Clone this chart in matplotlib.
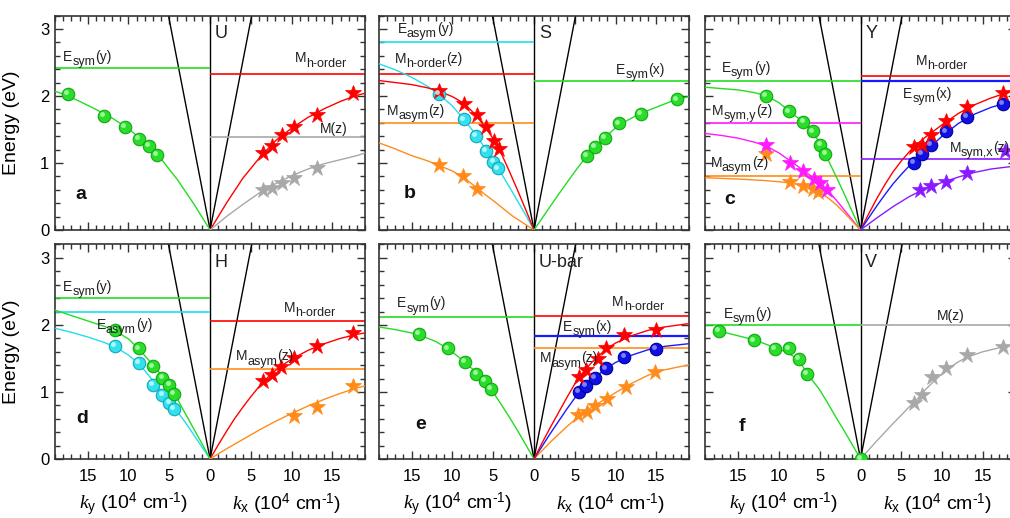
import re
import matplotlib.pyplot as plt
from matplotlib.ticker import MultipleLocator, FuncFormatter
from matplotlib.transforms import offset_copy

plt.rcParams['font.family'] = ['Liberation Sans', 'DejaVu Sans']
plt.rcParams['mathtext.fontset'] = 'custom'
plt.rcParams['mathtext.rm'] = 'Liberation Sans'
plt.rcParams['mathtext.it'] = 'Liberation Serif:italic'
plt.rcParams['mathtext.bf'] = 'Liberation Sans:bold'

K_MAX = 19
E_MAX = 3.2

GREEN = '#22dd22'
CYAN = '#22ddee'
RED = '#ff0000'
ORANGE = '#ff8c1a'
MAGENTA = '#ff1aff'
PURPLE = '#8a1aff'
BLUE = '#1a1aff'
GRAY = '#a8a8a8'

# light cone, same in every panel
light_k = [-5.1, 0, 5.1]
light_e = [3.2, 0, 3.2]

# ---- a : U ----
a_green_k = [-17.4, -13.06, -10.45, -8.73, -7.47, -6.53]
a_green_e = [2.03, 1.70, 1.54, 1.36, 1.26, 1.12]
a_green_fit_k = [0, -2, -4, -6, -8, -10, -12, -14, -16, -18, -19]
a_green_fit_e = [0, 0.39, 0.75, 1.06, 1.31, 1.51, 1.67, 1.80, 1.92, 2.03, 2.07]
a_red_k = [6.53, 7.55, 8.78, 10.33, 13.06, 17.55]
a_red_e = [1.15, 1.26, 1.41, 1.54, 1.72, 2.05]
a_red_fit_k = [0, 2, 4, 6, 8, 10, 12, 14, 16, 18, 19]
a_red_fit_e = [0, 0.40, 0.77, 1.07, 1.33, 1.52, 1.68, 1.81, 1.92, 2.01, 2.04]
a_gray_k = [6.53, 7.55, 8.78, 10.33, 13.06]
a_gray_e = [0.59, 0.62, 0.70, 0.78, 0.93]
a_gray_fit_k = [0, 2, 4, 6, 8, 10, 12, 14, 16, 18, 19]
a_gray_fit_e = [0, 0.20, 0.38, 0.55, 0.69, 0.81, 0.91, 0.99, 1.05, 1.11, 1.15]
a_levels = [2.42, 2.33, 1.39]

# ---- b : S ----
b_cyan_k = [-11.63, -8.61, -7.1, -5.86, -4.98, -4.45]
b_cyan_e = [2.03, 1.65, 1.40, 1.18, 1.02, 0.92]
b_cyan_fit_k = [0, -1, -2, -3, -4, -5, -6, -7, -8, -9, -10, -11.5, -13, -15, -17, -19]
b_cyan_fit_e = [0, 0.22, 0.43, 0.64, 0.84, 1.03, 1.22, 1.40, 1.56, 1.71, 1.85, 2.01, 2.14, 2.28, 2.39, 2.48]
b_red_k = [-11.63, -8.61, -7.02, -5.86, -4.94, -4.27]
b_red_e = [2.08, 1.88, 1.71, 1.53, 1.33, 1.21]
b_red_fit_k = [0, -1, -2, -3, -4, -5, -6, -7, -8, -9, -10, -11.6, -13, -15, -17, -19]
b_red_fit_e = [0, 0.30, 0.59, 0.87, 1.14, 1.36, 1.54, 1.70, 1.82, 1.92, 1.99, 2.07, 2.12, 2.17, 2.20, 2.23]
b_orange_k = [-11.63, -8.69, -7.02]
b_orange_e = [0.97, 0.81, 0.61]
b_orange_fit_k = [0, -1, -2.65, -4.7, -6, -7, -8.7, -10, -11.6, -13, -15, -17, -19]
b_orange_fit_e = [0, 0.08, 0.21, 0.41, 0.53, 0.63, 0.79, 0.88, 0.96, 1.03, 1.11, 1.21, 1.30]
b_green_k = [6.49, 7.47, 8.69, 10.41, 13.06, 17.47]
b_green_e = [1.11, 1.24, 1.38, 1.59, 1.73, 1.95]
b_green_fit_k = [0, 3, 5, 6.49, 7.47, 8.69, 10.41, 13.06, 17.47, 19]
b_green_fit_e = [0, 0.53, 0.87, 1.11, 1.24, 1.38, 1.57, 1.74, 1.95, 1.99]
b_levels = [2.80, 2.33, 1.60, 2.22]

# ---- c : Y ----
c_green_k = [-11.55, -8.82, -7.0, -5.84, -4.92, -4.3]
c_green_e = [2.00, 1.77, 1.61, 1.47, 1.27, 1.14]
c_green_fit_k = [0, -1, -2, -3, -4.3, -4.9, -5.8, -7, -8.8, -10, -11.5, -13, -15, -17, -19]
c_green_fit_e = [0, 0.27, 0.54, 0.80, 1.13, 1.28, 1.45, 1.61, 1.78, 1.90, 2.00, 2.05, 2.09, 2.11, 2.13]
c_magenta_k = [-11.56, -8.62, -7.06, -5.76, -4.94, -4.12]
c_magenta_e = [1.27, 1.00, 0.88, 0.76, 0.70, 0.60]
c_magenta_fit_k = [0, -1, -2, -3, -4.1, -4.9, -5.8, -7, -8.6, -10, -11.5, -13, -15, -17, -19]
c_magenta_fit_e = [0, 0.15, 0.30, 0.45, 0.60, 0.69, 0.78, 0.89, 1.03, 1.15, 1.25, 1.31, 1.37, 1.41, 1.44]
c_orange_k = [-11.56, -8.62, -7.06, -5.88, -5.15]
c_orange_e = [1.13, 0.72, 0.65, 0.61, 0.57]
c_orange_fit_k = [0, -1, -2, -3, -4, -5, -5.9, -7, -8.6, -10, -12, -15, -19]
c_orange_fit_e = [0, 0.13, 0.26, 0.38, 0.48, 0.56, 0.61, 0.66, 0.70, 0.72, 0.74, 0.76, 0.78]
c_red_k = [6.5, 7.52, 8.66, 10.5, 13.04, 17.45]
c_red_e = [1.24, 1.27, 1.42, 1.62, 1.84, 2.05]
c_red_fit_k = [0, 1, 2, 3, 4, 5, 6, 7, 8, 9, 10, 12, 14, 16, 18, 19]
c_red_fit_e = [0, 0.24, 0.47, 0.68, 0.87, 1.03, 1.17, 1.29, 1.39, 1.48, 1.57, 1.74, 1.87, 1.97, 2.05, 2.08]
c_blue_k = [6.5, 7.52, 8.66, 10.5, 13.04, 17.45]
c_blue_e = [1.00, 1.13, 1.27, 1.47, 1.69, 1.88]
c_blue_fit_k = [0, 1, 2, 3, 4, 5, 6, 7, 8, 9, 10, 12, 14, 16, 18, 19]
c_blue_fit_e = [0, 0.18, 0.36, 0.53, 0.69, 0.83, 0.96, 1.07, 1.18, 1.29, 1.40, 1.59, 1.73, 1.83, 1.90, 1.93]
c_purple_k = [7.3, 8.66, 10.5, 13.04, 17.7]
c_purple_e = [0.59, 0.66, 0.72, 0.85, 1.18]
c_purple_fit_k = [0, 2, 4, 6, 8, 10, 12, 14, 16, 18, 19]
c_purple_fit_e = [0, 0.18, 0.35, 0.50, 0.62, 0.71, 0.79, 0.86, 0.91, 0.94, 0.95]
c_levels = [2.23, 1.59, 0.80, 2.30, 2.23, 1.06]

# ---- d : H ----
d_green_k = [-11.63, -8.69, -7.02, -5.84, -4.98, -4.41]
d_green_e = [1.92, 1.65, 1.38, 1.21, 1.11, 0.97]
d_green_fit_k = [0, -1, -2, -3, -4.4, -5, -6, -7, -8.7, -10, -11.6, -13, -15, -17, -19]
d_green_fit_e = [0, 0.23, 0.45, 0.67, 0.98, 1.10, 1.26, 1.40, 1.64, 1.79, 1.91, 1.98, 2.06, 2.14, 2.22]
d_cyan_k = [-11.63, -8.69, -7.02, -5.84, -4.98, -4.41]
d_cyan_e = [1.69, 1.43, 1.10, 0.95, 0.84, 0.75]
d_cyan_fit_k = [0, -1, -2, -3, -4.4, -5, -6, -7, -8.7, -10, -11.6, -13, -15, -17, -19]
d_cyan_fit_e = [0, 0.18, 0.36, 0.54, 0.77, 0.86, 1.02, 1.17, 1.42, 1.55, 1.67, 1.74, 1.82, 1.89, 1.95]
d_red_k = [6.53, 7.55, 8.65, 10.33, 13.14, 17.55]
d_red_e = [1.16, 1.26, 1.37, 1.50, 1.68, 1.88]
d_red_fit_k = [0, 1, 2, 3, 4, 5, 6, 7, 8, 9, 10, 12, 14, 16, 18, 19]
d_red_fit_e = [0, 0.21, 0.41, 0.60, 0.77, 0.93, 1.08, 1.21, 1.32, 1.41, 1.49, 1.62, 1.72, 1.80, 1.86, 1.88]
d_orange_k = [10.33, 13.14, 17.55]
d_orange_e = [0.64, 0.78, 1.09]
d_orange_fit_k = [0, 2, 4, 6, 8, 10, 12, 14, 16, 18, 19]
d_orange_fit_e = [0, 0.15, 0.29, 0.43, 0.56, 0.68, 0.79, 0.89, 0.98, 1.06, 1.09]
d_levels = [2.40, 2.19, 2.06, 1.34]

# ---- e : U-bar ----
e_green_k = [-14.08, -10.57, -8.45, -7.06, -6.0, -5.27]
e_green_e = [1.86, 1.65, 1.45, 1.27, 1.16, 1.04]
e_green_fit_k = [0, -1, -2, -3, -4, -5.3, -6, -7, -8.5, -10.5, -12, -14, -15, -17, -19]
e_green_fit_e = [0, 0.21, 0.42, 0.62, 0.81, 1.05, 1.15, 1.28, 1.45, 1.64, 1.75, 1.85, 1.88, 1.93, 1.97]
e_red_k = [5.55, 6.37, 7.88, 8.82, 11.07, 14.9]
e_red_e = [1.23, 1.33, 1.49, 1.66, 1.85, 1.93]
e_red_fit_k = [0, 1, 2, 3, 4, 5, 6, 7, 8, 9, 10, 12, 14, 16, 19]
e_red_fit_e = [0, 0.24, 0.47, 0.69, 0.91, 1.12, 1.29, 1.43, 1.55, 1.65, 1.73, 1.84, 1.92, 1.97, 2.02]
e_blue_k = [5.55, 6.37, 7.48, 8.82, 11.07, 14.9]
e_blue_e = [1.00, 1.09, 1.21, 1.35, 1.52, 1.64]
e_blue_fit_k = [0, 1, 2, 3, 4, 5, 6, 7, 8, 9, 10, 12, 14, 16, 19]
e_blue_fit_e = [0, 0.19, 0.38, 0.56, 0.74, 0.91, 1.05, 1.16, 1.27, 1.36, 1.44, 1.55, 1.63, 1.68, 1.72]
e_orange_k = [5.43, 6.45, 7.47, 8.9, 11.22, 14.8]
e_orange_e = [0.65, 0.70, 0.79, 0.89, 1.08, 1.30]
e_orange_fit_k = [0, 2, 4, 6, 8, 10, 12, 14, 16, 18, 19]
e_orange_fit_e = [0, 0.25, 0.48, 0.69, 0.84, 0.99, 1.13, 1.25, 1.33, 1.38, 1.40]
e_levels = [2.12, 2.14, 1.83, 1.65]

# ---- f : V ----
f_green_k = [-17.39, -13.1, -10.45, -8.82, -7.51, -6.57, 0]
f_green_e = [1.91, 1.77, 1.64, 1.65, 1.49, 1.27, 0]
f_green_fit_k = [0, -1, -2, -3, -4, -5, -6.57, -7.51, -8.82, -10.45, -13.1, -17.39]
f_green_fit_e = [0, 0.21, 0.42, 0.62, 0.83, 1.03, 1.28, 1.47, 1.58, 1.66, 1.78, 1.91]
f_gray_k = [6.61, 7.59, 8.82, 10.45, 13.1, 17.43]
f_gray_e = [0.84, 0.96, 1.23, 1.35, 1.55, 1.67]
f_gray_fit_k = [0, 2, 4, 6, 7, 8, 9, 10.5, 12, 13.1, 15, 17.4, 19]
f_gray_fit_e = [0, 0.27, 0.53, 0.78, 0.90, 1.04, 1.16, 1.33, 1.45, 1.52, 1.60, 1.67, 1.71]
f_levels = [2.00, 2.00]

BALL_EDGE = {GREEN: '#12a812', CYAN: '#14a8b8', BLUE: '#0000a0'}
BALL_FACE = {GREEN: '#2add2a', CYAN: '#33e0f0', BLUE: '#1010e0'}
BALL_SHINE = {GREEN: '#b8ffb8', CYAN: '#d0ffff', BLUE: '#9a9aff'}

panels = [
    dict(pos=(0.0545, 0.556), letter='a', point='U',
         levels=[(a_levels[0], 'L', GREEN), (a_levels[1], 'R', RED), (a_levels[2], 'R', GRAY)],
         fits=[(a_green_fit_k, a_green_fit_e, GREEN), (a_red_fit_k, a_red_fit_e, RED),
               (a_gray_fit_k, a_gray_fit_e, GRAY)],
         balls=[(a_green_k, a_green_e, GREEN)],
         stars=[(a_red_k, a_red_e, RED), (a_gray_k, a_gray_e, GRAY)],
         labels=[(-18.0, 2.52, 'E_{sym}(y)'), (10.4, 2.50, 'M_{h-order}'), (13.5, 1.44, 'M(z)')],
         letter_xy=(-15.8, 0.53)),
    dict(pos=(0.3752, 0.556), letter='b', point='S',
         levels=[(b_levels[0], 'L', CYAN), (b_levels[1], 'L', RED), (b_levels[2], 'L', ORANGE),
                 (b_levels[3], 'R', GREEN)],
         fits=[(b_orange_fit_k, b_orange_fit_e, ORANGE), (b_cyan_fit_k, b_cyan_fit_e, CYAN),
               (b_red_fit_k, b_red_fit_e, RED), (b_green_fit_k, b_green_fit_e, GREEN)],
         balls=[(b_cyan_k, b_cyan_e, CYAN), (b_green_k, b_green_e, GREEN)],
         stars=[(b_red_k, b_red_e, RED), (b_orange_k, b_orange_e, ORANGE)],
         labels=[(-16.7, 2.94, 'E_{asym}(y)'), (-17.1, 2.49, 'M_{h-order}(z)'),
                 (-18.0, 1.72, 'M_{asym}(z)'), (10.05, 2.33, 'E_{sym}(x)')],
         letter_xy=(-15.2, 0.54)),
    dict(pos=(0.6985, 0.556), letter='c', point='Y',
         levels=[(c_levels[0], 'L', GREEN), (c_levels[1], 'L', MAGENTA), (c_levels[2], 'L', ORANGE),
                 (c_levels[3], 'R', RED), (c_levels[4], 'R', BLUE), (c_levels[5], 'R', PURPLE)],
         fits=[(c_green_fit_k, c_green_fit_e, GREEN), (c_magenta_fit_k, c_magenta_fit_e, MAGENTA),
               (c_orange_fit_k, c_orange_fit_e, ORANGE), (c_red_fit_k, c_red_fit_e, RED),
               (c_blue_fit_k, c_blue_fit_e, BLUE), (c_purple_fit_k, c_purple_fit_e, PURPLE)],
         balls=[(c_green_k, c_green_e, GREEN), (c_blue_k, c_blue_e, BLUE)],
         stars=[(c_orange_k, c_orange_e, ORANGE), (c_magenta_k, c_magenta_e, MAGENTA),
                (c_red_k, c_red_e, RED), (c_purple_k, c_purple_e, PURPLE)],
         labels=[(-17.0, 2.36, 'E_{sym}(y)'), (-18.2, 1.72, 'M_{sym,y}(z)'),
                 (-18.4, 0.94, 'M_{asym}(z)'), (6.8, 2.46, 'M_{h-order}'),
                 (5.2, 1.97, 'E_{sym}(x)'), (10.9, 1.17, 'M_{sym,x}(z)')],
         letter_xy=(-16.0, 0.46)),
    dict(pos=(0.0545, 0.114), letter='d', point='H',
         levels=[(d_levels[0], 'L', GREEN), (d_levels[1], 'L', CYAN), (d_levels[2], 'R', RED),
                 (d_levels[3], 'R', ORANGE)],
         fits=[(d_cyan_fit_k, d_cyan_fit_e, CYAN), (d_green_fit_k, d_green_fit_e, GREEN),
               (d_red_fit_k, d_red_fit_e, RED), (d_orange_fit_k, d_orange_fit_e, ORANGE)],
         balls=[(d_cyan_k, d_cyan_e, CYAN), (d_green_k, d_green_e, GREEN)],
         stars=[(d_red_k, d_red_e, RED), (d_orange_k, d_orange_e, ORANGE)],
         labels=[(-18.0, 2.51, 'E_{sym}(y)'), (-13.9, 1.94, 'E_{asym}(y)'),
                 (9.07, 2.19, 'M_{h-order}'), (3.19, 1.47, 'M_{asym}(z)')],
         letter_xy=(-15.7, 0.60)),
    dict(pos=(0.3752, 0.114), letter='e', point='U-bar',
         levels=[(e_levels[0], 'L', GREEN), (e_levels[1], 'R', RED), (e_levels[2], 'R', BLUE),
                 (e_levels[3], 'R', ORANGE)],
         fits=[(e_green_fit_k, e_green_fit_e, GREEN), (e_orange_fit_k, e_orange_fit_e, ORANGE),
               (e_blue_fit_k, e_blue_fit_e, BLUE), (e_red_fit_k, e_red_fit_e, RED)],
         balls=[(e_green_k, e_green_e, GREEN), (e_blue_k, e_blue_e, BLUE)],
         stars=[(e_orange_k, e_orange_e, ORANGE), (e_red_k, e_red_e, RED)],
         labels=[(-16.8, 2.26, 'E_{sym}(y)'), (9.6, 2.28, 'M_{h-order}'),
                 (3.6, 1.91, 'E_{sym}(x)'), (0.74, 1.44, 'M_{asym}(z)')],
         letter_xy=(-13.9, 0.52)),
    dict(pos=(0.6985, 0.114), letter='f', point='V',
         levels=[(f_levels[0], 'L', GREEN), (f_levels[1], 'R', GRAY)],
         fits=[(f_green_fit_k, f_green_fit_e, GREEN), (f_gray_fit_k, f_gray_fit_e, GRAY)],
         balls=[(f_green_k, f_green_e, GREEN)],
         stars=[(f_gray_k, f_gray_e, GRAY)],
         labels=[(-16.8, 2.10, 'E_{sym}(y)'), (9.4, 2.07, 'M(z)')],
         letter_xy=(-14.5, 0.49)),
]


def sub_label(ax, x, y, s, size=10.0, sub_size=9.0, drop=3.0):
    # subscripts nearly full size, as in the original figure
    parts = [p for p in re.split(r'_\{([^}]*)\}', s)]
    prev = None
    is_sub = False
    for part in parts:
        if part:
            if prev is None:
                prev = ax.text(x, y, part, fontsize=size, ha='left', va='baseline',
                               color='#222222', zorder=6)
            else:
                dy = -drop if is_sub else drop
                prev = ax.annotate(part, xy=(1, 0), xycoords=prev, xytext=(0, dy),
                                   textcoords='offset points', ha='left', va='bottom',
                                   fontsize=sub_size if is_sub else size,
                                   color='#222222', zorder=6)
        is_sub = not is_sub


fig = plt.figure(figsize=(10.1, 5.18), dpi=100)
W, H = 0.307, 0.414

for i, p in enumerate(panels):
    ax = fig.add_axes([p['pos'][0], p['pos'][1], W, H])
    ax.set_xlim(-K_MAX, K_MAX)
    ax.set_ylim(0, E_MAX)

    ax.plot(light_k, light_e, color='k', lw=1.0, zorder=2)
    ax.axvline(0, color='k', lw=1.0, zorder=2)

    for lev, side, col in p['levels']:
        if side == 'L':
            ax.hlines(lev, -K_MAX, 0, color=col, lw=1.6 if col == BLUE else 1.2, zorder=2)
        else:
            ax.hlines(lev, 0, K_MAX, color=col, lw=1.6 if col == BLUE else 1.2, zorder=2)

    for k, e, col in p['fits']:
        ax.plot(k, e, color=col, lw=1.0, zorder=3)

    shine = offset_copy(ax.transData, fig=fig, x=-1.3, y=1.3, units='points')
    for k, e, col in p['balls']:
        ax.plot(k, e, 'o', ms=9, mfc=BALL_FACE[col], mec=BALL_EDGE[col], mew=0.8, zorder=4)
        ax.plot(k, e, 'o', ms=3.5, mfc=BALL_SHINE[col], mec='none', alpha=0.8,
                transform=shine, zorder=5)

    for k, e, col in p['stars']:
        ax.plot(k, e, '*', ms=12, mfc=col, mec=col, mew=0.5, zorder=4)

    for x, y, s in p['labels']:
        sub_label(ax, x, y, s)

    ax.text(0.6, 2.86, p['point'], fontsize=13, ha='left', va='baseline', color='#222222')
    ax.text(p['letter_xy'][0], p['letter_xy'][1], p['letter'], fontsize=14,
            fontweight='bold', ha='center', va='center', color='#111111')

    ax.xaxis.set_major_locator(MultipleLocator(5))
    ax.xaxis.set_minor_locator(MultipleLocator(1))
    ax.yaxis.set_major_locator(MultipleLocator(1))
    ax.yaxis.set_minor_locator(MultipleLocator(0.2))
    ax.xaxis.set_major_formatter(FuncFormatter(lambda v, pos: f'{abs(v):.0f}'))
    ax.tick_params(which='both', direction='in', top=True, right=True,
                   color='#333333', width=1.0, labelsize=12, pad=7)
    ax.tick_params(which='major', length=6)
    ax.tick_params(which='minor', length=3.5)
    ax.tick_params(axis='y', pad=4)
    for sp in ax.spines.values():
        sp.set_color('#333333')
        sp.set_linewidth(1.2)

    if i < 3:
        ax.tick_params(labelbottom=False)
    else:
        ax.text(-9.4, -0.21, r'$k_{\rm y}$ (10$^{\rm 4}$ cm$^{\text{-1}}$)', fontsize=14,
                ha='center', va='center', transform=ax.get_xaxis_transform())
        ax.text(9.4, -0.21, r'$k_{\rm x}$ (10$^{\rm 4}$ cm$^{\text{-1}}$)', fontsize=14,
                ha='center', va='center', transform=ax.get_xaxis_transform())
    if i % 3 != 0:
        ax.tick_params(labelleft=False)
    else:
        ax.set_ylabel('Energy (eV)', fontsize=14)
        ax.yaxis.set_label_coords(-0.113, 0.5)

fig.savefig('out.png', dpi=100)
